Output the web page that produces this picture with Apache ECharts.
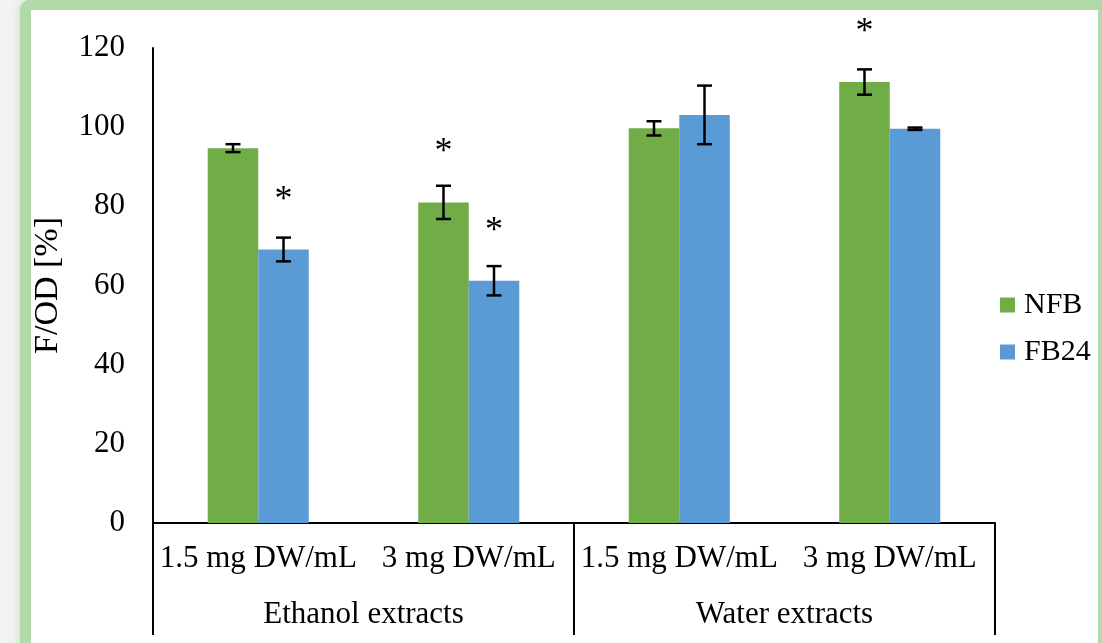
<!DOCTYPE html>
<html>
<head>
<meta charset="utf-8">
<script src="https://cdn.jsdelivr.net/npm/echarts@6/dist/echarts.min.js"></script>
<style>
  html, body { margin: 0; padding: 0; width: 1102px; height: 643px; overflow: hidden; background: #f3f3f3; }
  #frame { position: absolute; left: 20px; top: -1px; width: 1089px; height: 700px; box-sizing: border-box;
           border: 11px solid #b2daa9; border-radius: 12px; background: #ffffff;
           box-shadow: 0 0 8px rgba(150, 205, 140, 0.6); }
  #chart { position: absolute; left: 0; top: 0; width: 1102px; height: 643px; }
</style>
</head>
<body>
<div id="frame"></div>
<div id="chart"></div>
<script>
const categories = ['1.5 mg DW/mL', '3 mg DW/mL', '1.5 mg DW/mL', '3 mg DW/mL'];
const groups = ['Ethanol extracts', 'Water extracts'];
const seriesNames = ['NFB', 'FB24'];
const nfb = [94.7, 81.0, 99.7, 111.4];
const nfbErr = [1.0, 4.2, 1.8, 3.2];
const nfbSig = [0, 1, 0, 1];
const fb24 = [69.1, 61.2, 103.1, 99.6];
const fb24Err = [3.0, 3.7, 7.4, 0.3];
const fb24Sig = [1, 1, 0, 0];
const sigOffset = 15;

const FONT = '"Liberation Serif", "DejaVu Serif", serif';
const GAP = 0.52;
const colors = ['#70ad47', '#5b9bd5'];

function errData(vals, errs, sigs) {
  return vals.map((v, i) => [i, v, errs[i], sigs[i]]);
}

function makeErrRender(side) {
  return function (params, api) {
    const i = api.value(0), v = api.value(1), e = api.value(2), s = api.value(3);
    const catW = api.size([1, 0])[0];
    const barW = catW * (1 - GAP) / 2;
    const c = api.coord([i, v]);
    const x = c[0] + side * barW / 2;
    const yTop = api.coord([i, v + e])[1];
    const yBot = api.coord([i, v - e])[1];
    const cap = 7.5;
    const st = { stroke: '#000', lineWidth: 2.5 };
    const children = [
      { type: 'line', shape: { x1: x, y1: yTop, x2: x, y2: yBot }, style: st },
      { type: 'line', shape: { x1: x - cap, y1: yTop, x2: x + cap, y2: yTop }, style: st },
      { type: 'line', shape: { x1: x - cap, y1: yBot, x2: x + cap, y2: yBot }, style: st }
    ];
    if (s) {
      const ya = api.coord([i, v + sigOffset])[1];
      children.push({ type: 'text', x: x, y: ya + 10,
        style: { text: '*', fill: '#000', font: '36px ' + FONT, align: 'center', verticalAlign: 'middle' } });
    }
    return { type: 'group', children: children };
  };
}

const chart = echarts.init(document.getElementById('chart'), null, { renderer: 'canvas' });
chart.setOption({
  backgroundColor: 'transparent',
  animation: false,
  grid: { left: 153, right: 107, top: 48, bottom: 120, containLabel: false },
  legend: {
    orient: 'vertical', left: 995, top: 285,
    itemWidth: 15, itemHeight: 15, itemGap: 17,
    icon: 'rect',
    textStyle: { fontFamily: FONT, fontSize: 30, color: '#000', padding: [0, 0, 0, 4] },
    data: seriesNames
  },
  xAxis: [
    {
      type: 'category', data: categories, position: 'bottom',
      axisLine: { show: true, lineStyle: { color: '#000', width: 2 } },
      axisTick: { show: false },
      axisLabel: { fontFamily: FONT, fontSize: 31, color: '#000', margin: 20, interval: 0 }
    },
    {
      type: 'category', data: groups, position: 'bottom',
      axisLine: { show: false },
      axisTick: { show: true, length: 112, lineStyle: { color: '#000', width: 2 } },
      axisLabel: { fontFamily: FONT, fontSize: 31, color: '#000', margin: 76, interval: 0 }
    }
  ],
  yAxis: {
    type: 'value', min: 0, max: 120, interval: 20,
    name: 'F/OD [%]', nameLocation: 'middle', nameRotate: 90, nameGap: 88,
    nameTextStyle: { fontFamily: FONT, fontSize: 34, color: '#000' },
    axisLine: { show: true, lineStyle: { color: '#000', width: 2 } },
    axisTick: { show: false },
    splitLine: { show: false },
    axisLabel: { fontFamily: FONT, fontSize: 31, color: '#000', margin: 28 }
  },
  series: [
    { name: 'NFB', type: 'bar', data: nfb, barGap: '0%', barCategoryGap: (GAP * 100) + '%',
      itemStyle: { color: colors[0] } },
    { name: 'FB24', type: 'bar', data: fb24, barGap: '0%', barCategoryGap: (GAP * 100) + '%',
      itemStyle: { color: colors[1] } },
    { name: 'NFB err', type: 'custom', data: errData(nfb, nfbErr, nfbSig), renderItem: makeErrRender(-1), z: 5, silent: true },
    { name: 'FB24 err', type: 'custom', data: errData(fb24, fb24Err, fb24Sig), renderItem: makeErrRender(1), z: 5, silent: true }
  ]
});
</script>
</body>
</html>
